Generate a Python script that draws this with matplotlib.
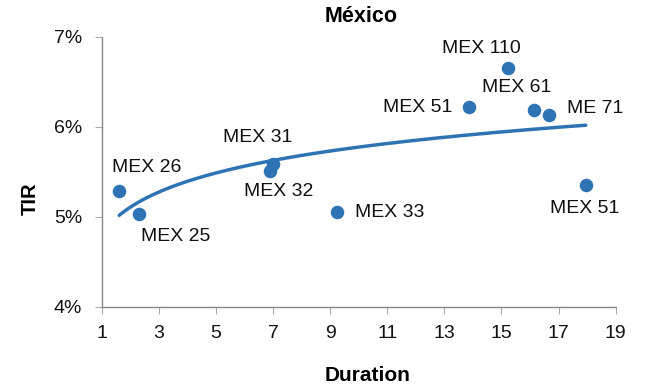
import numpy as np
import matplotlib
matplotlib.use("Agg")
import matplotlib.pyplot as plt

plt.rcParams['font.family'] = ['Liberation Sans', 'DejaVu Sans']

# Bond data: duration (years) and yield (TIR, %)
names = ["MEX 26", "MEX 25", "MEX 32", "MEX 31", "MEX 33",
         "MEX 51", "MEX 110", "MEX 61", "ME 71", "MEX 51"]
duration = [1.61, 2.32, 6.89, 7.01, 9.23, 13.87, 15.23, 16.15, 16.67, 17.95]
tir = [5.285, 5.03, 5.51, 5.59, 5.05, 6.215, 6.65, 6.185, 6.13, 5.355]

x_ticks = [1, 3, 5, 7, 9, 11, 13, 15, 17, 19]
y_ticks = [4, 5, 6, 7]

# label offsets in points (dx, dy) and alignment
label_pos = [
    ((-5, 17), 'left', 'center'),
    ((1, -16), 'left', 'center'),
    ((6, -15), 'center', 'center'),
    ((-11, 19), 'center', 'center'),
    ((13, 0), 'left', 'center'),
    ((-12, 0), 'right', 'center'),
    ((-19, 14), 'center', 'center'),
    ((-13, 16), 'center', 'center'),
    ((13, 5), 'left', 'center'),
    ((-1, -17), 'center', 'center'),
]

color = '#2e74b5'
grey = '#888888'

fig = plt.figure(figsize=(6.5, 3.9), dpi=100)
ax = fig.add_axes([0.1565, 0.2136, 0.7907, 0.6923])

# logarithmic trend line
b, a = np.polyfit(np.log(duration), tir, 1)
xs = np.linspace(min(duration), max(duration), 200)
ax.plot(xs, a + b * np.log(xs), color=color, lw=2.5, solid_capstyle='round', zorder=2)

ax.scatter(duration, tir, s=95, color=color, zorder=3, linewidths=0)

for name, x, y, ((dx, dy), ha, va) in zip(names, duration, tir, label_pos):
    ax.annotate(name, (x, y), xytext=(dx, dy), textcoords='offset points',
                ha=ha, va=va, fontsize=14, color='#111111')

ax.set_xlim(1, 19)
ax.set_ylim(4, 7)
ax.set_xticks(x_ticks)
ax.set_yticks(y_ticks)
ax.set_yticklabels([f"{v}%" for v in y_ticks])

for side in ['top', 'right']:
    ax.spines[side].set_visible(False)
for side in ['left', 'bottom']:
    ax.spines[side].set_color(grey)
    ax.spines[side].set_linewidth(1.0)

ax.tick_params(axis='both', colors='#aaaaaa', labelcolor='#111111', labelsize=14,
               length=5, width=0.8, direction='out')
ax.tick_params(axis='x', pad=8)
ax.tick_params(axis='y', pad=9)

fig.text(0.555, 0.958, "México", ha='center', va='center', fontsize=15.5, fontweight='bold')
fig.text(0.046, 0.49, "TIR", ha='center', va='center', fontsize=14.5, fontweight='bold',
         rotation=90)
fig.text(0.565, 0.038, "Duration", ha='center', va='center', fontsize=15, fontweight='bold')

fig.savefig("out.png", dpi=100)
